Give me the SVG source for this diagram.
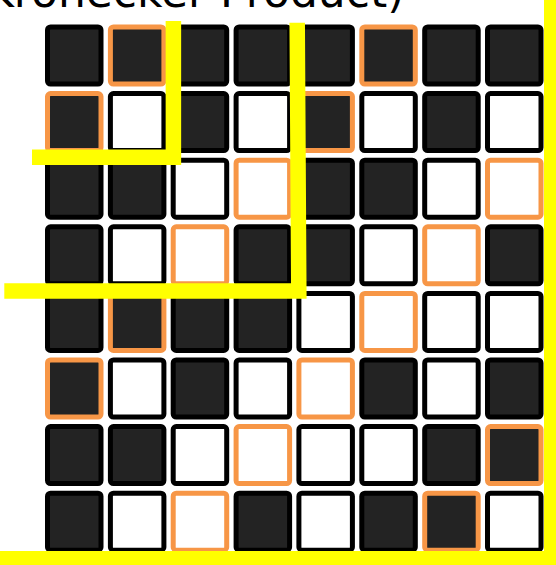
<svg xmlns="http://www.w3.org/2000/svg" width="556" height="565" viewBox="0 0 556 565">
<style>
.c{stroke-width:5;}
.d{fill:#232323;}
.w{fill:#ffffff;}
.k{stroke:#000000;}
.o{stroke:#f79646;}
.y{fill:none;stroke:#ffff00;stroke-linejoin:miter;stroke-linecap:butt;}
.t{font-family:"DejaVu Sans",Verdana,sans-serif;font-size:44px;fill:#000;}
</style>
<rect width="556" height="565" fill="#ffffff"/>
<text class="t" x="-15" y="6.5">Kronecker Product)</text>
<g id="grid">
<g id="r1">
<rect id="c11" class="c d k" x="47.5" y="27" width="53.5" height="57" rx="3"/>
<rect id="c12" class="c d o" x="110.4" y="27" width="53.5" height="57" rx="3"/>
<rect id="c13" class="c d k" x="173.2" y="27" width="53.5" height="57" rx="3"/>
<rect id="c14" class="c d k" x="236.1" y="27" width="53.5" height="57" rx="3"/>
<rect id="c15" class="c d k" x="298.9" y="27" width="53.5" height="57" rx="3"/>
<rect id="c16" class="c d o" x="361.8" y="27" width="53.5" height="57" rx="3"/>
<rect id="c17" class="c d k" x="424.7" y="27" width="53.5" height="57" rx="3"/>
<rect id="c18" class="c d k" x="487.5" y="27" width="53.5" height="57" rx="3"/>
</g>
<g id="r2">
<rect id="c21" class="c d o" x="47.5" y="93.6" width="53.5" height="57" rx="3"/>
<rect id="c22" class="c w k" x="110.4" y="93.6" width="53.5" height="57" rx="3"/>
<rect id="c23" class="c d k" x="173.2" y="93.6" width="53.5" height="57" rx="3"/>
<rect id="c24" class="c w k" x="236.1" y="93.6" width="53.5" height="57" rx="3"/>
<rect id="c25" class="c d o" x="298.9" y="93.6" width="53.5" height="57" rx="3"/>
<rect id="c26" class="c w k" x="361.8" y="93.6" width="53.5" height="57" rx="3"/>
<rect id="c27" class="c d k" x="424.7" y="93.6" width="53.5" height="57" rx="3"/>
<rect id="c28" class="c w k" x="487.5" y="93.6" width="53.5" height="57" rx="3"/>
</g>
<g id="r3">
<rect id="c31" class="c d k" x="47.5" y="160.2" width="53.5" height="57" rx="3"/>
<rect id="c32" class="c d k" x="110.4" y="160.2" width="53.5" height="57" rx="3"/>
<rect id="c33" class="c w k" x="173.2" y="160.2" width="53.5" height="57" rx="3"/>
<rect id="c34" class="c w o" x="236.1" y="160.2" width="53.5" height="57" rx="3"/>
<rect id="c35" class="c d k" x="298.9" y="160.2" width="53.5" height="57" rx="3"/>
<rect id="c36" class="c d k" x="361.8" y="160.2" width="53.5" height="57" rx="3"/>
<rect id="c37" class="c w k" x="424.7" y="160.2" width="53.5" height="57" rx="3"/>
<rect id="c38" class="c w o" x="487.5" y="160.2" width="53.5" height="57" rx="3"/>
</g>
<g id="r4">
<rect id="c41" class="c d k" x="47.5" y="226.8" width="53.5" height="57" rx="3"/>
<rect id="c42" class="c w k" x="110.4" y="226.8" width="53.5" height="57" rx="3"/>
<rect id="c43" class="c w o" x="173.2" y="226.8" width="53.5" height="57" rx="3"/>
<rect id="c44" class="c d k" x="236.1" y="226.8" width="53.5" height="57" rx="3"/>
<rect id="c45" class="c d k" x="298.9" y="226.8" width="53.5" height="57" rx="3"/>
<rect id="c46" class="c w k" x="361.8" y="226.8" width="53.5" height="57" rx="3"/>
<rect id="c47" class="c w o" x="424.7" y="226.8" width="53.5" height="57" rx="3"/>
<rect id="c48" class="c d k" x="487.5" y="226.8" width="53.5" height="57" rx="3"/>
</g>
<g id="r5">
<rect id="c51" class="c d k" x="47.5" y="293.4" width="53.5" height="57" rx="3"/>
<rect id="c52" class="c d o" x="110.4" y="293.4" width="53.5" height="57" rx="3"/>
<rect id="c53" class="c d k" x="173.2" y="293.4" width="53.5" height="57" rx="3"/>
<rect id="c54" class="c d k" x="236.1" y="293.4" width="53.5" height="57" rx="3"/>
<rect id="c55" class="c w k" x="298.9" y="293.4" width="53.5" height="57" rx="3"/>
<rect id="c56" class="c w o" x="361.8" y="293.4" width="53.5" height="57" rx="3"/>
<rect id="c57" class="c w k" x="424.7" y="293.4" width="53.5" height="57" rx="3"/>
<rect id="c58" class="c w k" x="487.5" y="293.4" width="53.5" height="57" rx="3"/>
</g>
<g id="r6">
<rect id="c61" class="c d o" x="47.5" y="360" width="53.5" height="57" rx="3"/>
<rect id="c62" class="c w k" x="110.4" y="360" width="53.5" height="57" rx="3"/>
<rect id="c63" class="c d k" x="173.2" y="360" width="53.5" height="57" rx="3"/>
<rect id="c64" class="c w k" x="236.1" y="360" width="53.5" height="57" rx="3"/>
<rect id="c65" class="c w o" x="298.9" y="360" width="53.5" height="57" rx="3"/>
<rect id="c66" class="c d k" x="361.8" y="360" width="53.5" height="57" rx="3"/>
<rect id="c67" class="c w k" x="424.7" y="360" width="53.5" height="57" rx="3"/>
<rect id="c68" class="c d k" x="487.5" y="360" width="53.5" height="57" rx="3"/>
</g>
<g id="r7">
<rect id="c71" class="c d k" x="47.5" y="426.6" width="53.5" height="57" rx="3"/>
<rect id="c72" class="c d k" x="110.4" y="426.6" width="53.5" height="57" rx="3"/>
<rect id="c73" class="c w k" x="173.2" y="426.6" width="53.5" height="57" rx="3"/>
<rect id="c74" class="c w o" x="236.1" y="426.6" width="53.5" height="57" rx="3"/>
<rect id="c75" class="c w k" x="298.9" y="426.6" width="53.5" height="57" rx="3"/>
<rect id="c76" class="c w k" x="361.8" y="426.6" width="53.5" height="57" rx="3"/>
<rect id="c77" class="c d k" x="424.7" y="426.6" width="53.5" height="57" rx="3"/>
<rect id="c78" class="c d o" x="487.5" y="426.6" width="53.5" height="57" rx="3"/>
</g>
<g id="r8">
<rect id="c81" class="c d k" x="47.5" y="493.2" width="53.5" height="57" rx="3"/>
<rect id="c82" class="c w k" x="110.4" y="493.2" width="53.5" height="57" rx="3"/>
<rect id="c83" class="c w o" x="173.2" y="493.2" width="53.5" height="57" rx="3"/>
<rect id="c84" class="c d k" x="236.1" y="493.2" width="53.5" height="57" rx="3"/>
<rect id="c85" class="c w k" x="298.9" y="493.2" width="53.5" height="57" rx="3"/>
<rect id="c86" class="c d k" x="361.8" y="493.2" width="53.5" height="57" rx="3"/>
<rect id="c87" class="c d o" x="424.7" y="493.2" width="53.5" height="57" rx="3"/>
<rect id="c88" class="c w k" x="487.5" y="493.2" width="53.5" height="57" rx="3"/>
</g>
</g>
<g id="lines">
<polyline class="y" stroke-width="15.5" points="32,157.2 173.4,157.2 173.4,21"/>
<polyline class="y" stroke-width="15.5" points="4.3,291 298.8,291 297.2,22.7"/>
<polyline class="y" stroke-width="16" points="0,559 552,559 552,0"/>
</g>
</svg>
